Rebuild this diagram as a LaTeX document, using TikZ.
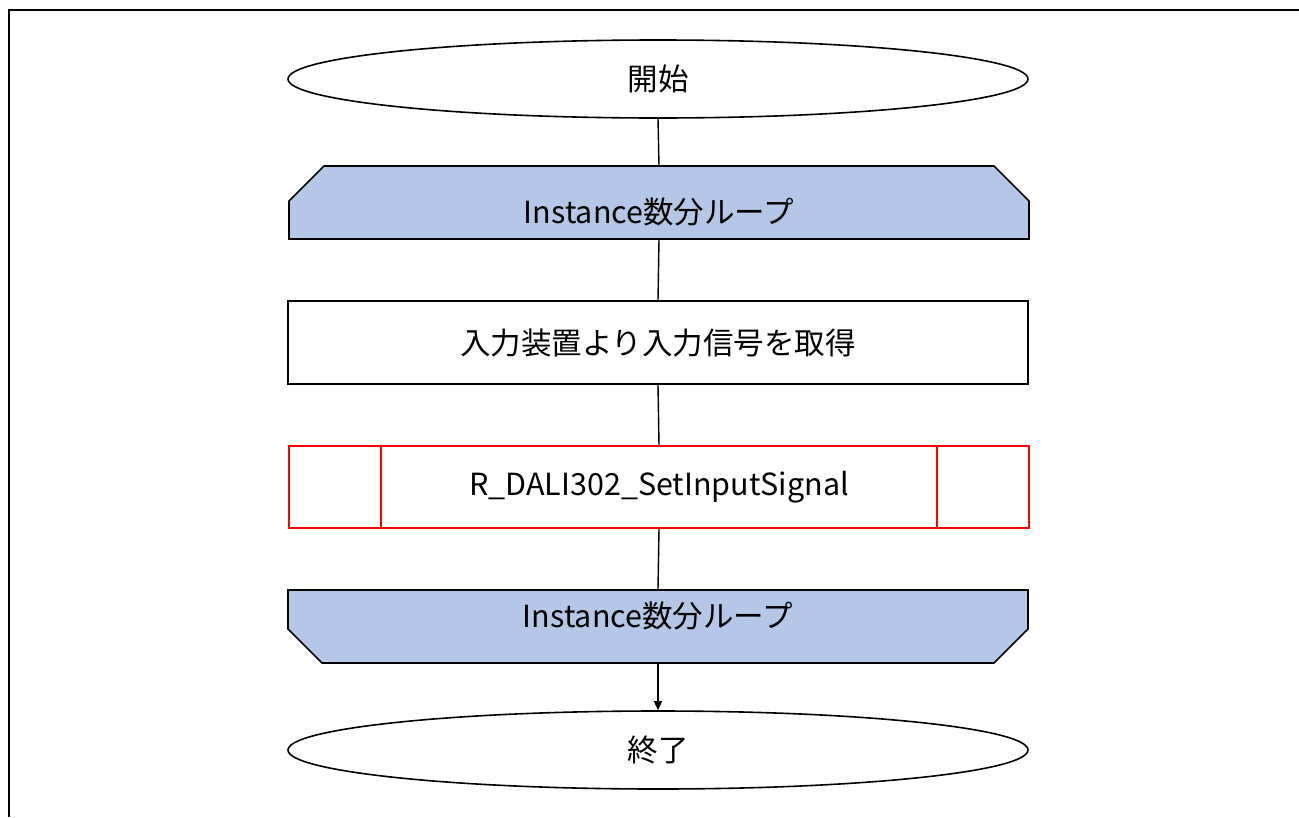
\documentclass[tikz,border=0pt]{standalone}
\usepackage{fontspec}
\setmainfont{Noto Sans CJK JP}
\usetikzlibrary{calc,arrows.meta,shapes.geometric}
\definecolor{loopblue}{HTML}{B4C7E7}
\tikzset{
  base/.style={font=\fontsize{30.5}{36}\selectfont, inner sep=0pt},
  term/.style={base, ellipse, draw=black, line width=1.6pt, minimum width=740, minimum height=78},
  proc/.style={base, rectangle, draw=black, line width=1.4pt, minimum width=740, minimum height=83},
  sub/.style={base, rectangle, draw=red, line width=1.6pt, minimum width=740, minimum height=82},
  loopbox/.style={base, rectangle, minimum width=740, minimum height=73},
  looplabel/.style={base},
  loopfill/.style={fill=loopblue, draw=black, line width=1.6pt, line join=miter},
  conn/.style={draw=black, line width=1.4pt},
}
\begin{document}
\begin{tikzpicture}[x=1pt,y=-1pt]
\useasboundingbox (0,0) rectangle (1299,817);
\draw[line width=2.2pt] (9,817) -- (9,10) -- (1299,10);

\node[term] (start) at (658,79) {開始};

% loop start (chamfered top corners)
\filldraw[loopfill] (289,239) -- (289,201) -- (324,166) -- (994,166) -- (1029,201) -- (1029,239) -- cycle;
\node[loopbox] (loopA) at (659,202.5) {};
\node[looplabel] (loopAtext) at (659,212) {Instance数分ループ};

\node[proc] (get) at (658,342.5) {入力装置より入力信号を取得};

\node[sub] (call) at (659,487) {R\_DALI302\_SetInputSignal};
\draw[draw=red, line width=1.6pt] ($(call.north west)+(93,0)$) -- ($(call.south west)+(93,0)$);
\draw[draw=red, line width=1.6pt] ($(call.north east)+(-93,0)$) -- ($(call.south east)+(-93,0)$);

% loop end (chamfered bottom corners)
\filldraw[loopfill] (288,590) -- (1028,590) -- (1028,629) -- (994,663) -- (322,663) -- (288,629) -- cycle;
\node[loopbox] (loopB) at (658,626) {};
\node[looplabel] (loopBtext) at (658,616) {Instance数分ループ};

\node[term] (end) at (658,750) {終了};

\draw[conn] (start.south) -- (loopA.north);
\draw[conn] (loopA.south) -- (get.north);
\draw[conn] (get.south) -- (call.north);
\draw[conn] (call.south) -- (loopB.north);
\draw[conn, -{Triangle[length=9pt,width=8pt]}] (loopB.south) -- (end.north);
\end{tikzpicture}
\end{document}
